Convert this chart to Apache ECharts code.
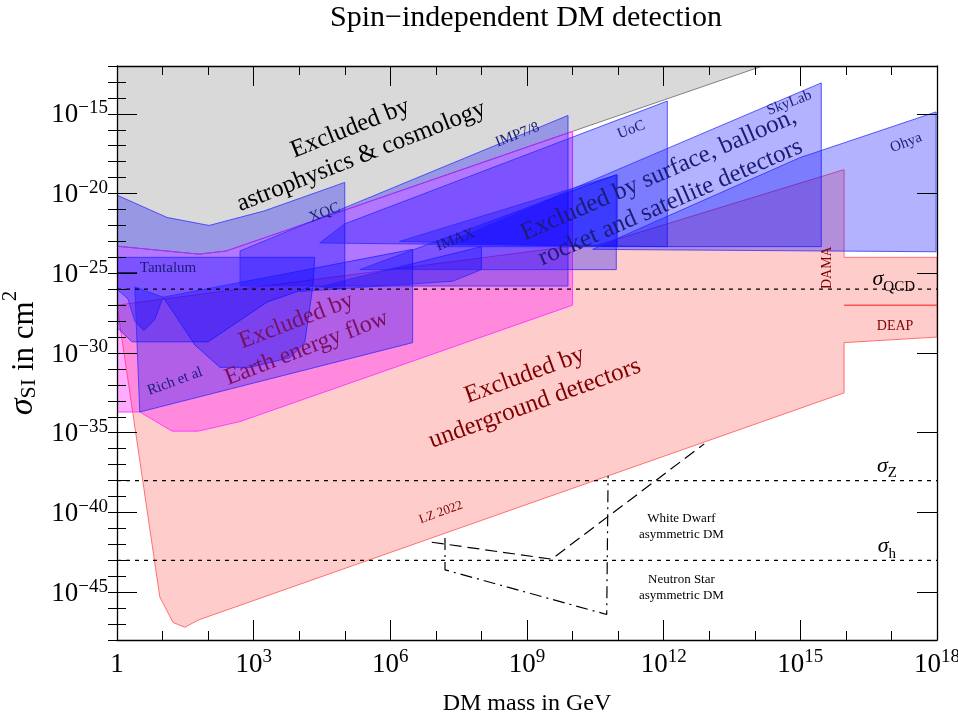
<!DOCTYPE html>
<html><head><meta charset="utf-8">
<script src="https://cdn.jsdelivr.net/npm/echarts@6/dist/echarts.min.js"></script>
<style>html,body{margin:0;padding:0;background:#fff}#c{width:958px;height:719px}</style>
</head><body><div id="c"></div>
<script>
// ---- data (log10 of DM mass in GeV, log10 of cross section in cm^2) ----
const xTickValues = [0, 3, 6, 9, 12, 15, 18];
const yTickValues = [-45, -40, -35, -30, -25, -20, -15];
const astroCosmo = [[0,-12],[14.17,-12],[10,-16.1],[2.4,-23.6],[1.8,-23.8],[0,-23.3]];
const underground = [[0,-27.0],[9.9,-23.33],[10.44,-23.33],[15.96,-18.5],[15.96,-24.0],[18,-24.0],[18,-29.0],[15.96,-29.35],[15.96,-32.5],[1.78,-46.75],[1.49,-47.2],[1.23,-46.9],[0.94,-45.3]];
const earthFlow = [[0,-23.3],[1.8,-23.8],[2.4,-23.6],[10,-16.1],[10,-27.0],[2.7,-34.3],[1.78,-34.9],[1.21,-34.9],[0.5,-33.7],[0,-33.7]];
const xqc = [[0,-20.1],[1.1,-21.5],[2.02,-22.0],[3.22,-21.1],[5.0,-19.3],[5.0,-26.0],[4.3,-25.8],[3.3,-26.8],[2.0,-29.3],[0.33,-29.3],[0,-28.4]];
const tantalum = [[0,-24.0],[4.34,-24.0],[4.3,-25.8],[4.12,-29.35],[3.79,-30.3],[2.92,-30.9],[2.26,-30.9],[1.71,-29.5],[1.27,-27.6],[1.01,-26.5],[0.83,-27.9],[0.59,-28.6],[0.39,-28.0],[0.24,-26.6],[0,-26.0]];
const richEtAl = [[0.39,-25.85],[1.01,-26.5],[6.49,-23.5],[6.49,-29.35],[0.5,-33.7]];
const imp78 = [[2.7,-23.6],[9.9,-15.1],[9.9,-25.8],[2.7,-25.8]];
const uoc = [[4.45,-23.1],[5.0,-21.9],[12.08,-14.2],[12.08,-23.33]];
const imax = [[4.0,-26.15],[8.0,-23.33],[8.0,-24.77],[7.37,-25.5]];
const surfaceBox = [[5.33,-24.77],[10.96,-18.82],[10.96,-24.77]];
const balloonBox = [[6.2,-23.0],[10.98,-18.82],[10.98,-23.33]];
const skylab = [[7.02,-23.33],[15.46,-13.06],[15.46,-23.33]];
const ohya = [[10.44,-23.5],[14.98,-17.76],[17.98,-14.88],[17.98,-23.65]];
const deapLine = [[15.96,-27.0],[18,-27.0]];
const tantalumMark = [[0,-24.95],[0.44,-24.95]];
const sigmaQCD = -26, sigmaZ = -38, sigmaH = -43;
const whiteDwarf = [[6.91,-41.87],[9.54,-42.93],[12.89,-35.7]];
const neutronStar = [[7.2,-41.6],[7.2,-43.6],[10.75,-46.4],[10.78,-37.7]];

const FONT = '"Liberation Serif", "DejaVu Serif", serif';
const NAVY = '#1c1c78', DRED = '#800000', DMAG = '#7a0f5e';

const annotations = [
  {text:'Excluded by\nastrophysics & cosmology', at:[5.24,-16.8], rot:21.5, size:25, color:'#000'},
  {text:'XQC', at:[4.56,-21.2], rot:21, size:15, color:NAVY},
  {text:'IMP7/8', at:[8.79,-16.32], rot:21, size:15, color:NAVY},
  {text:'UoC', at:[11.29,-16.0], rot:21, size:15, color:NAVY},
  {text:'SkyLab', at:[14.76,-14.32], rot:21, size:15, color:NAVY},
  {text:'Ohya', at:[17.32,-16.82], rot:21, size:15, color:NAVY},
  {text:'IMAX', at:[7.43,-22.9], rot:21, size:15, color:NAVY},
  {text:'Excluded by surface, balloon,\nrocket and satellite detectors', at:[12.02,-19.7], rot:23.5, size:25, color:NAVY},
  {text:'Tantalum', at:[1.12,-24.65], rot:0, size:15, color:NAVY},
  {text:'Rich et al', at:[1.27,-31.79], rot:20, size:15, color:NAVY},
  {text:'Excluded by\nEarth energy flow', at:[4.05,-28.85], rot:21, size:24, color:DMAG},
  {text:'Excluded by\nunderground detectors', at:[9.06,-32.29], rot:20, size:25, color:DRED},
  {text:'DAMA', at:[15.59,-24.65], rot:90, size:14, color:DRED},
  {text:'DEAP', at:[17.08,-28.34], rot:0, size:14, color:DRED},
  {text:'LZ 2022', at:[7.11,-40.0], rot:20, size:13, color:DRED},
  {text:'White Dwarf\nasymmetric DM', at:[12.39,-40.87], rot:0, size:13, color:'#000'},
  {text:'Neutron Star\nasymmetric DM', at:[12.39,-44.69], rot:0, size:13, color:'#000'},
  {rich:'{i|σ}{s|QCD}', at:[17.05,-25.5], color:'#000'},
  {rich:'{i|σ}{s|Z}', at:[16.9,-37.2], color:'#000'},
  {rich:'{i|σ}{s|h}', at:[16.9,-42.25], color:'#000'}
];

function poly(name, pts, fill, stroke, z) {
  return {
    type:'custom', name:name, coordinateSystem:'cartesian2d', z:z, silent:true, clip:true,
    data: pts,
    renderItem: function(params, api) {
      if (params.dataIndex !== 0) return;
      const points = pts.map(p => api.coord(p));
      return {type:'polygon', shape:{points:points}, style:{fill:fill, stroke:stroke, lineWidth:1}};
    }
  };
}
function line(name, pts, color, type, width, z) {
  return {type:'line', name:name, data:pts, showSymbol:false, symbol:'none', silent:true, z:z||5,
    lineStyle:{color:color, width:width||1.2, type:type||'solid'}, animation:false};
}

const BLUE = 'rgba(0,0,255,0.3)', BLUE_E = 'rgba(40,40,255,0.75)';
const supRich = {
  b:{fontSize:27, fontFamily:FONT, color:'#000', lineHeight:30, verticalAlign:'bottom'},
  s:{fontSize:19, fontFamily:FONT, color:'#000', lineHeight:22, verticalAlign:'top'}
};
function powLabel(v){ if (v === 0) return '{b|1}'; return '{b|10}{s|' + (v<0 ? '\u2212' + (-v) : v) + '}'; }

const axisLineStyle = {color:'#000', width:1.3};
const option = {
  animation:false,
  backgroundColor:'#fff',
  graphic:[{type:'text', x:526, y:18, style:{text:'Spin\u2212independent DM detection', font:'30px ' + FONT, fill:'#000', align:'center', verticalAlign:'middle', textAlign:'center', textVerticalAlign:'middle'}}],
  grid:{left:117, right:21, top:66, bottom:79, containLabel:false, outerBoundsMode:'none'},
  xAxis:[
    {type:'value', min:0, max:18, interval:3, position:'bottom', z:10,
     axisLine:{show:true, onZero:false, lineStyle:axisLineStyle},
     axisTick:{show:true, inside:true, length:20, lineStyle:{color:'#000', width:1}},
     minorTick:{show:true, splitNumber:3, length:9, lineStyle:{color:'#000', width:1}},
     splitLine:{show:false}, minorSplitLine:{show:false},
     axisLabel:{margin:8, formatter:powLabel, rich:supRich},
     name:'DM mass in GeV', nameLocation:'middle', nameGap:52,
     nameTextStyle:{fontFamily:FONT, fontSize:24, color:'#000'}},
    {type:'value', min:0, max:18, interval:3, position:'top', z:10,
     axisLine:{show:true, onZero:false, lineStyle:axisLineStyle},
     axisTick:{show:true, inside:true, length:20, lineStyle:{color:'#000', width:1}},
     minorTick:{show:true, splitNumber:3, length:9, lineStyle:{color:'#000', width:1}},
     splitLine:{show:false}, axisLabel:{show:false}}
  ],
  yAxis:[
    {type:'value', min:-48, max:-12, position:'left', z:10,
     axisLine:{show:true, onZero:false, lineStyle:axisLineStyle},
     axisTick:{show:true, inside:true, length:20, customValues:yTickValues, lineStyle:{color:'#000', width:1}},
     splitLine:{show:false},
     axisLabel:{margin:9, customValues:yTickValues, formatter:powLabel, rich:supRich},
     name:'{i|σ}{sub|SI}{n| in cm}{sup|2}', nameLocation:'middle', nameGap:68, nameRotate:90,
     nameTextStyle:{rich:{
       i:{fontFamily:FONT, fontStyle:'italic', fontSize:34, color:'#000', lineHeight:40, verticalAlign:'bottom'},
       sub:{fontFamily:FONT, fontSize:22, color:'#000', lineHeight:28, verticalAlign:'bottom'},
       n:{fontFamily:FONT, fontSize:31, color:'#000', lineHeight:40, verticalAlign:'bottom'},
       sup:{fontFamily:FONT, fontSize:21, color:'#000', lineHeight:26, verticalAlign:'top'}}}},
    {type:'value', min:-48, max:-12, interval:1, position:'left', z:10,
     axisLine:{show:false}, axisTick:{show:true, inside:true, length:9, lineStyle:{color:'#000', width:1}},
     splitLine:{show:false}, axisLabel:{show:false}},
    {type:'value', min:-48, max:-12, position:'right', z:10,
     axisLine:{show:true, onZero:false, lineStyle:axisLineStyle},
     axisTick:{show:true, inside:true, length:20, customValues:yTickValues, lineStyle:{color:'#000', width:1}},
     splitLine:{show:false}, axisLabel:{show:false, customValues:yTickValues}},
    {type:'value', min:-48, max:-12, interval:1, position:'right', z:10,
     axisLine:{show:false}, axisTick:{show:true, inside:true, length:9, lineStyle:{color:'#000', width:1}},
     splitLine:{show:false}, axisLabel:{show:false}}
  ],
  series:[
    poly('astro', astroCosmo, '#d9d9d9', '#808080', 1),
    poly('underground', underground, 'rgba(255,0,0,0.2)', '#ff7070', 2),
    poly('earth', earthFlow, 'rgba(255,0,255,0.33)', '#ff40ff', 3),
    poly('xqc', xqc, BLUE, BLUE_E, 4),
    poly('tantalum', tantalum, BLUE, BLUE_E, 4),
    poly('rich', richEtAl, BLUE, BLUE_E, 4),
    poly('imp', imp78, BLUE, BLUE_E, 4),
    poly('uoc', uoc, BLUE, BLUE_E, 4),
    poly('imax', imax, BLUE, BLUE_E, 4),
    poly('surface', surfaceBox, BLUE, BLUE_E, 4),
    poly('balloon', balloonBox, BLUE, BLUE_E, 4),
    poly('skylab', skylab, BLUE, BLUE_E, 4),
    poly('ohya', ohya, BLUE, BLUE_E, 4),
    line('deap', deapLine, '#ff5050', 'solid', 1.5),
    line('tmark', tantalumMark, '#1c1c78', 'solid', 1.2),
    line('qcd', [[0,sigmaQCD],[18,sigmaQCD]], '#000', [4,5], 1.3),
    line('z', [[0,sigmaZ],[18,sigmaZ]], '#000', [4,5], 1.3),
    line('h', [[0,sigmaH],[18,sigmaH]], '#000', [4,5], 1.3),
    line('wd', whiteDwarf, '#000', [12,6], 1.2),
    line('ns', neutronStar, '#000', [12,5,2,5], 1.2),
    {type:'custom', name:'labels', coordinateSystem:'cartesian2d', z:20, silent:true, clip:false,
     data: annotations.map(a => a.at),
     renderItem: function(params, api){
       const a = annotations[params.dataIndex];
       const p = api.coord(a.at);
       if (a.rich) {
         return {type:'text', x:p[0], y:p[1], style:{text:a.rich, align:'center', verticalAlign:'middle',
           rich:{i:{fontFamily:FONT, fontStyle:'italic', fontSize:22, fill:a.color, lineHeight:26, verticalAlign:'top'},
                 s:{fontFamily:FONT, fontSize:15, fill:a.color, lineHeight:26, verticalAlign:'bottom'}}}};
       }
       return {type:'text', x:p[0], y:p[1], rotation:a.rot*Math.PI/180,
         style:{text:a.text, fill:a.color, font:a.size + 'px ' + FONT, align:'center', verticalAlign:'middle', lineHeight:Math.round(a.size*1.2)}};
     }}
  ]
};
const chart = echarts.init(document.getElementById('c'), null, {renderer:'canvas'});
chart.setOption(option);
</script></body></html>
